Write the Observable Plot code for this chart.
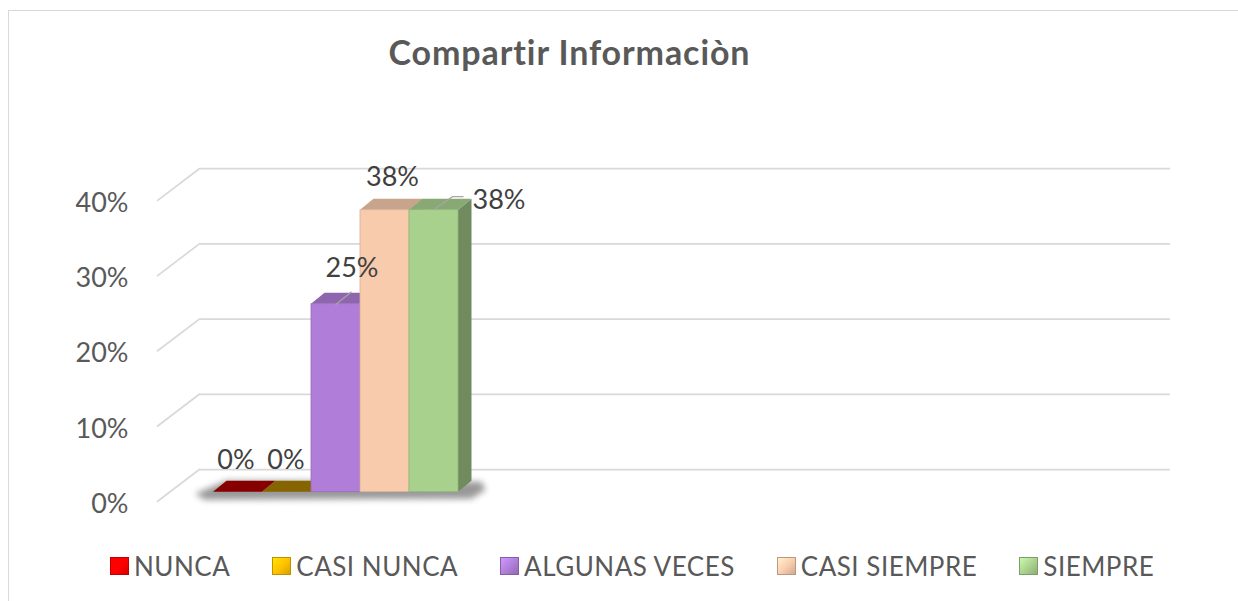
<!DOCTYPE html>
<html>
<head>
<meta charset="utf-8">
<script src="https://cdn.jsdelivr.net/npm/d3@7"></script>
<script src="https://cdn.jsdelivr.net/npm/@observablehq/plot@0.6"></script>
<style>
  body { margin: 0; background: #fff; }
  #wrap { position: relative; width: 1238px; height: 601px; overflow: hidden; font-family: Lato, "Open Sans", sans-serif; }
  #border { position: absolute; left: 8px; top: 10px; width: 1260px; height: 620px; border: 1px solid #d9d9d9; box-sizing: border-box; }
  #chart { position: absolute; left: 0; top: 0; }
  #title { position: absolute; left: 0; top: 35px; width: 1139px; text-align: center; font-size: 34px; line-height: 34px; font-weight: 700; color: #595959; letter-spacing: 0.9px; }
  #legend { position: absolute; left: 110px; top: 551px; height: 30px; display: flex; gap: 42px; align-items: center; }
  .item { display: flex; align-items: center; gap: 5px; font-size: 26px; line-height: 30px; color: #595959; letter-spacing: 0.5px; }
  .sw { width: 19px; height: 18px; box-sizing: border-box; }
</style>
</head>
<body>
<div id="wrap">
  <div id="border"></div>
  <div id="chart"></div>
  <div id="title"></div>
  <div id="legend"></div>
</div>
<script>
// ---- data ----
const title = "Compartir Informaciòn";
const categories = ["NUNCA", "CASI NUNCA", "ALGUNAS VECES", "CASI SIEMPRE", "SIEMPRE"];
const values = [0, 0, 0.25, 0.375, 0.375];
const valueLabels = ["0%", "0%", "25%", "38%", "38%"];
const tickValues = [0, 0.1, 0.2, 0.3, 0.4];
const tickLabels = ["0%", "10%", "20%", "30%", "40%"];
const colors = ["#ff0000", "#ffc000", "#b07ed8", "#f8cbad", "#a9d18e"];

// ---- layout/style config ----
const depth = {dx: 13.5, dy: -11};          // bar depth
const wallBack = {dx: 30, dy: -22.7};        // back wall offset from bar plane
const wallFront = {dx: -13, dy: 10};         // front plane offset from bar plane
const labelNudge = {                          // data-label offsets (as placed in the original)
  "NUNCA": {dx: -2, dy: -32},
  "CASI NUNCA": {dx: -1, dy: -32},
  "ALGUNAS VECES": {dx: 16, dy: -36, leader: true},
  "CASI SIEMPRE": {dx: 7.5, dy: -33},
  "SIEMPRE": {dx: 65, dy: -10, leader: true}
};

const data = categories.map((c, i) => ({category: c, value: values[i], label: valueLabels[i]}));
const colorOf = new Map(categories.map((c, i) => [c, colors[i]]));

document.getElementById("title").textContent = title;

// legend
const legend = document.getElementById("legend");
categories.forEach((c, i) => {
  const col = d3.color(colors[i]);
  const it = document.createElement("div");
  it.className = "item";
  const sw = document.createElement("span");
  sw.className = "sw";
  sw.style.background = `linear-gradient(135deg, ${col.brighter(0.5)} 0%, ${col} 55%, ${col.darker(0.5)} 100%)`;
  sw.style.border = `1px solid ${col.darker(0.8)}`;
  const tx = document.createElement("span");
  tx.textContent = c;
  it.appendChild(sw); it.appendChild(tx);
  legend.appendChild(it);
});

// diagonal wall lines (left side wall)
function wallDiagonals(index, scales, vals, dim) {
  const g = d3.create("svg:g").attr("stroke", "#d9d9d9").attr("stroke-width", 1.75).attr("fill", "none");
  for (const t of tickValues) {
    const y = scales.y(t);
    g.append("line")
      .attr("x1", dim.marginLeft + wallFront.dx).attr("y1", y + wallFront.dy)
      .attr("x2", dim.marginLeft + wallBack.dx).attr("y2", y + wallBack.dy);
  }
  return g.node();
}

function bwOf(scales) {
  return scales.x.bandwidth ? scales.x.bandwidth() : 49.5;
}

// floor shadow
function floorShadow(index, scales) {
  const bw = bwOf(scales);
  const left = scales.x(categories[0]);
  const right = scales.x(categories[categories.length - 1]) + bw;
  const y0 = scales.y(0);
  const g = d3.create("svg:g");
  const id = "shblur";
  g.append("defs").append("filter").attr("id", id).attr("x", "-20%").attr("y", "-100%").attr("width", "140%").attr("height", "300%")
    .append("feGaussianBlur").attr("stdDeviation", 3);
  const pts = [
    [left - 18, y0 + 2], [left + depth.dx, y0 + depth.dy], [right + depth.dx + 10, y0 + depth.dy + 1],
    [right + depth.dx + 14, y0 - 2], [right + depth.dx, y0 + 7], [left - 8, y0 + 8]
  ];
  g.append("polygon").attr("points", pts.map(p => p.join(",")).join(" "))
    .attr("fill", "#7f7f7f").attr("opacity", 0.8).attr("filter", `url(#${id})`);
  return g.node();
}

// side and top faces of the 3D bars
function barFaces(index, scales) {
  const bw = bwOf(scales);
  const y0 = scales.y(0);
  const g = d3.create("svg:g");
  const rows = data.map(d => {
    const x0 = scales.x(d.category);
    return {d, x0, x1: x0 + bw, yt: scales.y(d.value), c: d3.color(colorOf.get(d.category))};
  });
  for (const r of rows) {
    if (r.d.value > 0) {
      g.append("polygon").attr("points", [
        [r.x1, r.yt], [r.x1 + depth.dx, r.yt + depth.dy], [r.x1 + depth.dx, y0 + depth.dy], [r.x1, y0]
      ].map(p => p.join(",")).join(" ")).attr("fill", r.c.darker(1.15));
    }
  }
  for (const r of rows) {
    g.append("polygon").attr("points", [
      [r.x0, r.yt], [r.x1, r.yt], [r.x1 + depth.dx, r.yt + depth.dy], [r.x0 + depth.dx, r.yt + depth.dy]
    ].map(p => p.join(",")).join(" ")).attr("fill", r.c.darker(r.d.value === 0 ? 1.8 : 0.6));
  }
  return g.node();
}

// leader lines for moved labels
function leaders(index, scales) {
  const bw = bwOf(scales);
  const g = d3.create("svg:g").attr("stroke", "#a6a6a6").attr("stroke-width", 1.2).attr("fill", "none");
  for (const d of data) {
    const n = labelNudge[d.category];
    if (!n.leader) continue;
    const xc = scales.x(d.category) + bw / 2;
    const yt = scales.y(d.value);
    if (n.dx > 30) {
      g.append("polyline").attr("points", `${xc},${yt} ${xc + 19},${yt - 13} ${xc + 30},${yt - 13}`);
    } else {
      g.append("line").attr("x1", xc).attr("y1", yt + 1).attr("x2", xc + n.dx).attr("y2", yt - 12);
    }
  }
  return g.node();
}

const labelMarks = categories.map(c => Plot.text(data.filter(d => d.category === c), {
  x: "category", y: "value", text: "label",
  dx: labelNudge[c].dx, dy: labelNudge[c].dy,
  fontSize: 27, fill: "#404040", fontFamily: "Lato"
}));

const plot = Plot.plot({
  width: 1238,
  height: 601,
  marginLeft: 170,
  marginRight: 98,
  marginTop: 190.9,
  marginBottom: 109.3,
  style: {background: "transparent", fontFamily: "Lato, 'Open Sans', sans-serif", overflow: "visible"},
  x: {domain: categories, range: [211.5, 459], padding: 0, axis: null},
  y: {domain: [0, 0.4], axis: null},
  color: {domain: categories, range: colors},
  marks: [
    Plot.ruleY(tickValues, {stroke: "#d9d9d9", strokeWidth: 1.75, dx: wallBack.dx, dy: wallBack.dy}),
    wallDiagonals,
    floorShadow,
    barFaces,
    Plot.barY(data, {x: "category", y: "value", fill: "category",
      stroke: d => d3.color(colorOf.get(d.category)).darker(0.4).formatHex(), strokeWidth: 0.8}),
    leaders,
    ...labelMarks,
    Plot.text(tickValues, {y: d => d, text: (d, i) => tickLabels[i], frameAnchor: "left", textAnchor: "end",
      dx: -42, dy: 12, fontSize: 27, fill: "#595959", fontFamily: "Lato"})
  ]
});
document.getElementById("chart").appendChild(plot);
</script>
</body>
</html>
